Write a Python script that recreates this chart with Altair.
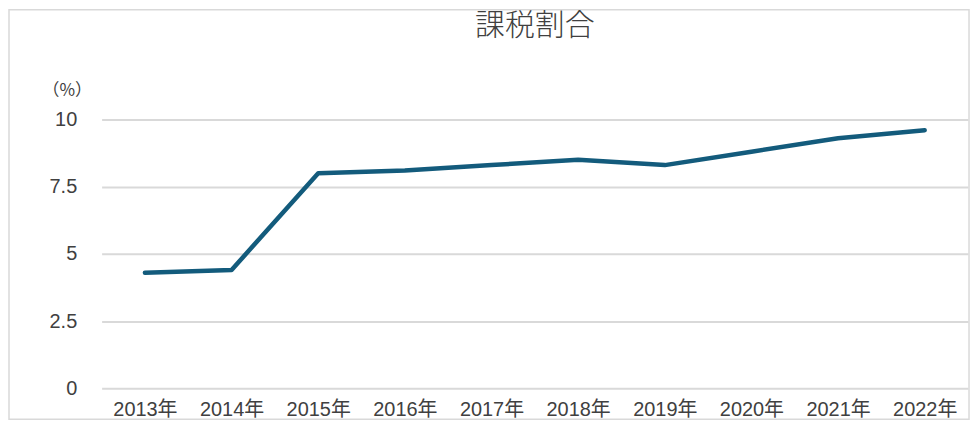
import altair as alt
import pandas as pd

years = ["2013年", "2014年", "2015年", "2016年", "2017年", "2018年", "2019年", "2020年", "2021年", "2022年"]
values = [4.3, 4.4, 8.0, 8.1, 8.3, 8.5, 8.3, 8.8, 9.3, 9.6]
title_text = ["課税割合"]

df = pd.DataFrame({"year": years, "value": values})

FONT = "Liberation Sans, Noto Sans CJK JP"
CJK = "Noto Sans CJK JP"

frame = alt.Chart(pd.DataFrame({"a": [0]})).mark_rect(
    fill="white", fillOpacity=0, stroke="#d9d9d9", strokeWidth=1.5, clip=False
).encode(
    x=alt.value(-93), x2=alt.value(871), y=alt.value(-110), y2=alt.value(301)
)

title = alt.Chart(pd.DataFrame({"t": title_text})).mark_text(
    font=CJK, fontSize=30, fontWeight=300, color="#404040", align="center", baseline="alphabetic", clip=False
).encode(
    text="t:N", x=alt.value(435), y=alt.value(-85)
)

line = alt.Chart(df).mark_line(color="#135b7c", strokeWidth=4.5, strokeCap="round", strokeJoin="round").encode(
    x=alt.X("year:N", sort=years, scale=alt.Scale(type="point", padding=0.5),
            axis=alt.Axis(title=None, labelAngle=0, ticks=False, domain=False, grid=False,
                          labelPadding=11, labelFontSize=20, labelColor="#404040", labelFont=FONT)),
    y=alt.Y("value:Q", scale=alt.Scale(domain=[0, 10]),
            axis=alt.Axis(values=[0, 2.5, 5, 7.5, 10], format=".1~f", title="（%）", titleAngle=0, titleX=-35, titleY=-29,
                          titleBaseline="middle", titleAlign="center", titleFontSize=17, titleFontWeight="normal",
                          titleColor="#404040", titleFont=CJK,
                          ticks=False, domain=False, labelPadding=25, labelFontSize=20, labelColor="#404040",
                          labelFont=FONT, gridColor="#d9d9d9", gridWidth=2)),
)

chart = alt.layer(frame, title, line).properties(
    width=870, height=270,
    autosize=alt.AutoSizeParams(type="none"),
    padding={"left": 94, "top": 111, "right": 4, "bottom": 34},
).configure_view(stroke=None)

chart.save("out.html", embed_options={"renderer": "svg", "actions": False})
